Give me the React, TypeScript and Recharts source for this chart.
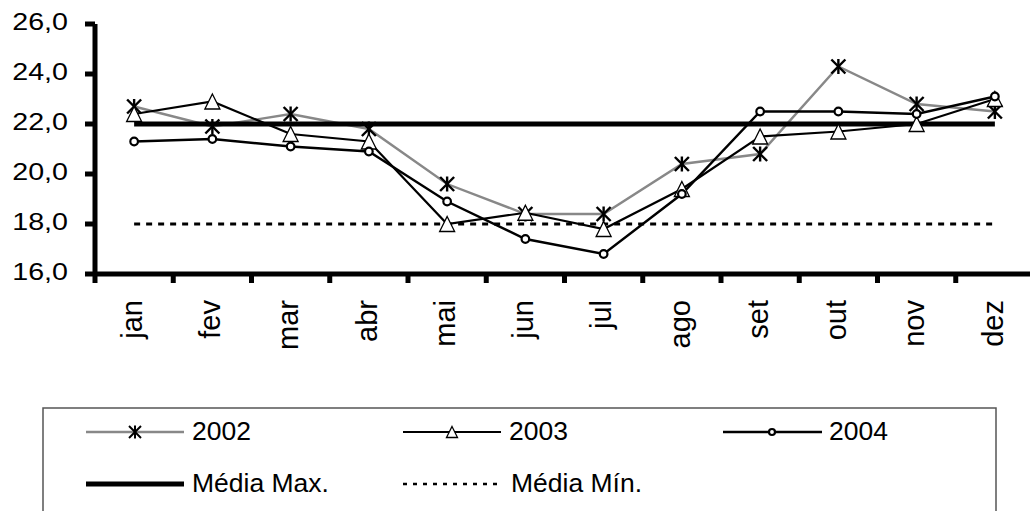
import React from 'react';
import { LineChart, Line, XAxis, YAxis } from 'recharts';

const months = ['jan', 'fev', 'mar', 'abr', 'mai', 'jun', 'jul', 'ago', 'set', 'out', 'nov', 'dez'];
const values2002 = [22.7, 21.9, 22.4, 21.8, 19.6, 18.4, 18.4, 20.4, 20.8, 24.3, 22.8, 22.5];
const values2003 = [22.4, 22.9, 21.6, 21.3, 18.0, 18.45, 17.8, 19.4, 21.5, 21.7, 22.0, 23.0];
const values2004 = [21.3, 21.4, 21.1, 20.9, 18.9, 17.4, 16.8, 19.2, 22.5, 22.5, 22.4, 23.1];
const mediaMax = [22, 22, 22, 22, 22, 22, 22, 22, 22, 22, 22, 22];
const mediaMin = [18, 18, 18, 18, 18, 18, 18, 18, 18, 18, 18, 18];
const yTicks = [16, 18, 20, 22, 24, 26];
const seriesNames = ['2002', '2003', '2004', 'Média Max.', 'Média Mín.'];

const data = months.map((m, i) => ({
  month: m,
  s2002: values2002[i],
  s2003: values2003[i],
  s2004: values2004[i],
  max: mediaMax[i],
  min: mediaMin[i],
}));

const FONT = "'Liberation Sans', Arial, Helvetica, sans-serif";
const CHART_W = 1040;
const CHART_H = 520;
const Y_AXIS_W = 95;
const MARGIN = { top: 24, right: 6, left: 0, bottom: 186 };
const X_AXIS_H = 60;
const PLOT_W = CHART_W - MARGIN.right - MARGIN.left - Y_AXIS_W;
const HALF = PLOT_W / (months.length * 2);
const AXIS_W = 5;

const Asterisk = ({ cx, cy, s = 7, sw = 2.4 }: any) => (
  <g stroke="#000" strokeWidth={sw} fill="none">
    <line x1={cx - s} y1={cy - s} x2={cx + s} y2={cy + s} />
    <line x1={cx - s} y1={cy + s} x2={cx + s} y2={cy - s} />
    <line x1={cx} y1={cy - s - 0.5} x2={cx} y2={cy + s + 0.5} />
  </g>
);

const Triangle = ({ cx, cy, s = 7.5 }: any) => (
  <polygon
    points={`${cx},${cy - s} ${cx + s},${cy + s} ${cx - s},${cy + s}`}
    fill="#fff"
    stroke="#000"
    strokeWidth={1.3}
  />
);

const Circle = ({ cx, cy, r = 3.8 }: any) => (
  <circle cx={cx} cy={cy} r={r} fill="#fff" stroke="#000" strokeWidth={2.2} />
);

const renderAsterisk = (p: any) => <Asterisk key={`a-${p.index}`} cx={p.cx} cy={p.cy} />;
const renderTriangle = (p: any) => <Triangle key={`t-${p.index}`} cx={p.cx} cy={p.cy} />;
const renderCircle = (p: any) => <Circle key={`c-${p.index}`} cx={p.cx} cy={p.cy} />;

const XTick = (props: any) => {
  const { x, y, payload } = props;
  const ty = y + 26;
  return (
    <g>
      <line x1={x - HALF} y1={y} x2={x - HALF} y2={y + 9} stroke="#000" strokeWidth={AXIS_W} />
      <text
        x={x}
        y={ty}
        dy={7.7}
        transform={`rotate(-90, ${x}, ${ty})`}
        textAnchor="end"
        fontSize={29}
        fontFamily={FONT}
        fill="#000"
        stroke="none"
      >
        {payload.value}
      </text>
    </g>
  );
};

const YTick = (props: any) => {
  const { x, y, payload } = props;
  const label = Number(payload.value).toFixed(1).replace('.', ',');
  return (
    <text
      transform={`translate(${x}, ${y + 6}) scale(1.22, 1)`}
      textAnchor="end"
      fontSize={23.5}
      fontFamily={FONT}
      fill="#000"
      stroke="none"
    >
      {label}
    </text>
  );
};

const LegendBox = () => {
  const row1 = 432;
  const row2 = 484;
  const fs = 26.5;
  return (
    <svg
      width={1030}
      height={511}
      style={{ position: 'absolute', left: 0, top: 0, pointerEvents: 'none' }}
    >
      <rect x={43} y={408} width={953} height={140} fill="none" stroke="#555" strokeWidth={1.5} />
      <line x1={86} y1={row1} x2={184} y2={row1} stroke="#888" strokeWidth={2.3} />
      <Asterisk cx={135} cy={row1} s={6} sw={2} />
      <text x={192} y={row1 + 8} fontSize={fs} fontFamily={FONT} fill="#000">{seriesNames[0]}</text>
      <line x1={403} y1={row1} x2={501} y2={row1} stroke="#000" strokeWidth={2} />
      <Triangle cx={452} cy={row1} s={5.5} />
      <text x={509} y={row1 + 8} fontSize={fs} fontFamily={FONT} fill="#000">{seriesNames[1]}</text>
      <line x1={723} y1={row1} x2={822} y2={row1} stroke="#000" strokeWidth={2.3} />
      <Circle cx={772} cy={row1} r={3} />
      <text x={829} y={row1 + 8} fontSize={fs} fontFamily={FONT} fill="#000">{seriesNames[2]}</text>
      <line x1={86} y1={row2} x2={184} y2={row2} stroke="#000" strokeWidth={5} />
      <text x={192} y={row2 + 8} fontSize={fs} fontFamily={FONT} fill="#000">{seriesNames[3]}</text>
      <line x1={403} y1={row2} x2={499} y2={row2} stroke="#000" strokeWidth={2.5} strokeDasharray="4 6" />
      <text x={511} y={row2 + 8} fontSize={fs} fontFamily={FONT} fill="#000">{seriesNames[4]}</text>
    </svg>
  );
};

export default function App() {
  return (
    <div
      style={{
        position: 'absolute',
        left: 0,
        top: 0,
        width: 1030,
        height: 511,
        overflow: 'hidden',
        background: '#fff',
      }}
    >
      <LineChart width={CHART_W} height={CHART_H} data={data} margin={MARGIN}>
        <XAxis
          dataKey="month"
          interval={0}
          height={X_AXIS_H}
          padding={{ left: HALF, right: HALF }}
          stroke="#000"
          strokeWidth={AXIS_W}
          axisLine={{ stroke: '#000', strokeWidth: AXIS_W }}
          tickLine={false}
          tickSize={0}
          tickMargin={0}
          tick={<XTick />}
        />
        <YAxis
          width={Y_AXIS_W}
          domain={[16, 26]}
          ticks={yTicks}
          interval={0}
          stroke="#000"
          strokeWidth={AXIS_W}
          axisLine={{ stroke: '#000', strokeWidth: AXIS_W }}
          tickLine={{ stroke: '#000', strokeWidth: AXIS_W }}
          tickSize={10}
          tickMargin={17}
          tick={<YTick />}
        />
        <Line
          type="linear"
          dataKey="s2002"
          name={seriesNames[0]}
          stroke="#888"
          strokeWidth={2.4}
          dot={renderAsterisk}
          activeDot={false}
          isAnimationActive={false}
        />
        <Line
          type="linear"
          dataKey="s2003"
          name={seriesNames[1]}
          stroke="#000"
          strokeWidth={2.2}
          dot={renderTriangle}
          activeDot={false}
          isAnimationActive={false}
        />
        <Line
          type="linear"
          dataKey="s2004"
          name={seriesNames[2]}
          stroke="#000"
          strokeWidth={2.4}
          dot={renderCircle}
          activeDot={false}
          isAnimationActive={false}
        />
        <Line
          type="linear"
          dataKey="max"
          name={seriesNames[3]}
          stroke="#000"
          strokeWidth={5}
          dot={false}
          activeDot={false}
          isAnimationActive={false}
        />
        <Line
          type="linear"
          dataKey="min"
          name={seriesNames[4]}
          stroke="#000"
          strokeWidth={2.8}
          strokeDasharray="6 6"
          dot={false}
          activeDot={false}
          isAnimationActive={false}
        />
      </LineChart>
      <LegendBox />
    </div>
  );
}
